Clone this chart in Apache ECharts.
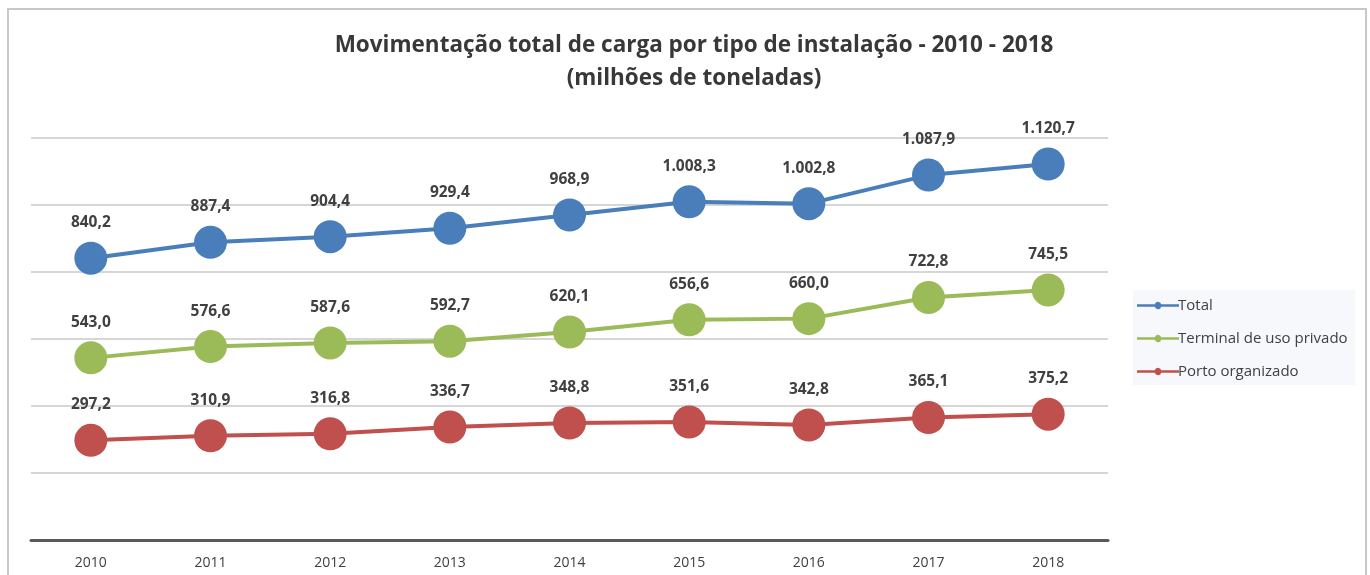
<!DOCTYPE html>
<html>
<head>
<meta charset="utf-8">
<script src="https://cdn.jsdelivr.net/npm/echarts@6/dist/echarts.min.js"></script>
<style>
html,body{margin:0;padding:0;background:#fff;}
#chart{width:1370px;height:575px;}
</style>
</head>
<body>
<div id="chart"></div>
<script>
const years = ['2010','2011','2012','2013','2014','2015','2016','2017','2018'];
const total = [840.2, 887.4, 904.4, 929.4, 968.9, 1008.3, 1002.8, 1087.9, 1120.7];
const terminal = [543.0, 576.6, 587.6, 592.7, 620.1, 656.6, 660.0, 722.8, 745.5];
const porto = [297.2, 310.9, 316.8, 336.7, 348.8, 351.6, 342.8, 365.1, 375.2];
const seriesNames = ['Total', 'Terminal de uso privado', 'Porto organizado'];
const colors = ['#4A7EBB', '#9BBB59', '#C0504D'];

function fmtBR(v){
  const parts = v.toFixed(1).split('.');
  const intPart = parts[0].replace(/\B(?=(\d{3})+(?!\d))/g, '.');
  return intPart + ',' + parts[1];
}

const FONT = '"Open Sans", "Liberation Sans", sans-serif';

function mkSeries(name, data, color){
  return {
    name: name,
    type: 'line',
    data: data,
    symbol: 'circle',
    symbolSize: 33,
    itemStyle: {color: color},
    lineStyle: {color: color, width: 4},
    label: {
      show: true,
      position: 'top',
      distance: 11,
      formatter: p => fmtBR(p.value),
      fontFamily: FONT,
      fontWeight: 'bold',
      fontSize: 15.5,
      color: '#404040'
    },
    emphasis: {disabled: true},
    animation: false
  };
}

const chart = echarts.init(document.getElementById('chart'), null, {renderer: 'canvas'});
chart.setOption({
  backgroundColor: '#fff',
  animation: false,
  title: {
    text: 'Movimentação total de carga por tipo de instalação - 2010 - 2018\n(milhões de toneladas)',
    left: 689,
    textAlign: 'center',
    top: 24,
    textStyle: {
      fontFamily: FONT,
      fontWeight: 'bold',
      fontSize: 22.5,
      lineHeight: 33,
      color: '#383838'
    }
  },
  legend: {
    orient: 'vertical',
    left: 1133,
    top: 290,
    itemGap: 18,
    itemWidth: 42,
    itemHeight: 18,
    backgroundColor: '#f7f8fb',
    padding: [8, 8, 6, 4],
    data: seriesNames.map((n, i) => ({
      name: n,
      icon: 'path://M0,3.4 L17,3.4 A3.1,3.1 0 0 1 23,3.4 L40,3.4 L40,5.6 L23,5.6 A3.1,3.1 0 0 1 17,5.6 L0,5.6 Z'
    })),
    textStyle: {fontFamily: FONT, fontSize: 15, color: '#404040', padding: [0,0,0,-6]}
  },
  grid: {left: 31, right: 262, top: 137.5, bottom: 35, containLabel: false},
  xAxis: {
    type: 'category',
    data: years,
    boundaryGap: true,
    axisLine: {lineStyle: {color: '#595959', width: 3}},
    axisTick: {show: false},
    axisLabel: {fontFamily: FONT, fontSize: 14, color: '#404040', margin: 16}
  },
  yAxis: {
    type: 'value',
    min: 0,
    max: 1200,
    interval: 200,
    axisLabel: {show: false},
    axisLine: {show: false},
    axisTick: {show: false},
    splitLine: {lineStyle: {color: '#c8c8c8', width: 1.5}}
  },
  graphic: [{
    type: 'rect',
    shape: {x: 8, y: 9, width: 1358, height: 580},
    style: {fill: 'none', stroke: '#c8c8c8', lineWidth: 2},
    silent: true,
    z: 100
  }],
  series: [
    mkSeries(seriesNames[0], total, colors[0]),
    mkSeries(seriesNames[1], terminal, colors[1]),
    mkSeries(seriesNames[2], porto, colors[2])
  ]
});
</script>
</body>
</html>
